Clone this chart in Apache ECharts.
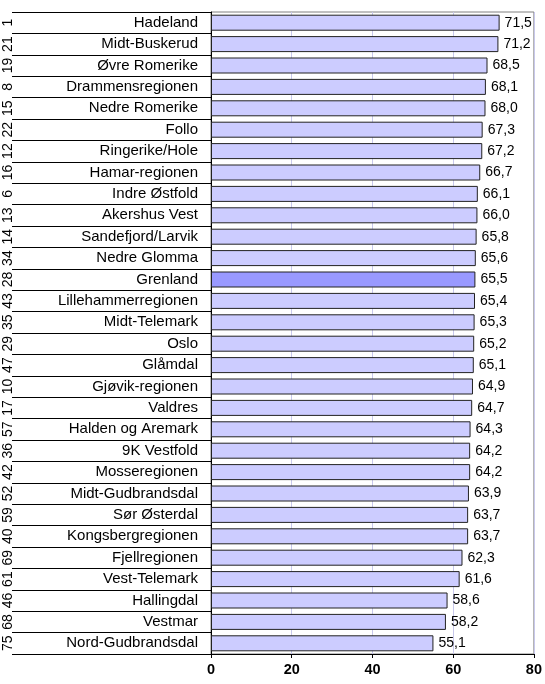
<!DOCTYPE html>
<html>
<head>
<meta charset="utf-8">
<script src="https://cdn.jsdelivr.net/npm/echarts@6/dist/echarts.min.js"></script>
<style>
html,body{margin:0;padding:0;background:#fff;}
#chart{width:545px;height:684px;}
</style>
</head>
<body>
<div id="chart"></div>
<script>
const categories = ["Hadeland","Midt-Buskerud","Øvre Romerike","Drammensregionen","Nedre Romerike","Follo","Ringerike/Hole","Hamar-regionen","Indre Østfold","Akershus Vest","Sandefjord/Larvik","Nedre Glomma","Grenland","Lillehammerregionen","Midt-Telemark","Oslo","Glåmdal","Gjøvik-regionen","Valdres","Halden og Aremark","9K Vestfold","Mosseregionen","Midt-Gudbrandsdal","Sør Østerdal","Kongsbergregionen","Fjellregionen","Vest-Telemark","Hallingdal","Vestmar","Nord-Gudbrandsdal"];
const ranks = ["1","21","19","8","15","22","12","16","6","13","14","34","28","43","35","29","47","10","17","57","36","42","52","59","40","69","61","46","68","75"];
const values = [71.5,71.2,68.5,68.1,68.0,67.3,67.2,66.7,66.1,66.0,65.8,65.6,65.5,65.4,65.3,65.2,65.1,64.9,64.7,64.3,64.2,64.2,63.9,63.7,63.7,62.3,61.6,58.6,58.2,55.1];
const highlight = "Grenland";
const xTicks = [0,20,40,60,80];

const font = "'Liberation Sans', Arial, sans-serif";
const chart = echarts.init(document.getElementById('chart'), null, {renderer:'canvas'});
chart.setOption({
  animation:false,
  backgroundColor:'#fff',
  grid:{left:211,right:10,top:12,bottom:30,show:true,borderColor:'#808080',borderWidth:1,backgroundColor:'transparent'},
  xAxis:{
    type:'value',min:xTicks[0],max:xTicks[xTicks.length-1],interval:20,
    axisLine:{show:true,lineStyle:{color:'#000',width:1}},
    axisTick:{show:true,length:4,lineStyle:{color:'#000'}},
    axisLabel:{fontFamily:font,fontSize:14.5,fontWeight:'bold',color:'#000',margin:8},
    splitLine:{show:true,lineStyle:{color:'#C8C8EC',width:1}}
  },
  yAxis:[{
    type:'category',data:categories,inverse:true,position:'left',
    axisLine:{show:true,lineStyle:{color:'#000',width:1}},
    axisTick:{show:true,length:199,lineStyle:{color:'#000',width:1}},
    axisLabel:{fontFamily:font,fontSize:15,color:'#000',margin:13},
    splitLine:{show:false}
  },{
    type:'category',data:ranks,inverse:true,position:'left',offset:203,
    axisLine:{show:false},axisTick:{show:false},
    axisLabel:{fontFamily:font,fontSize:14,color:'#000',margin:0,rotate:90,align:'center',verticalAlign:'middle'}
  }],
  series:[{
    type:'bar',yAxisIndex:0,barWidth:16,
    data:values.map((v,i)=>({value:v,itemStyle:{color:categories[i]===highlight?'#9999FF':'#CCCCFF'}})),
    itemStyle:{borderColor:'#222',borderWidth:1},
    label:{show:true,position:'right',distance:5,fontFamily:font,fontSize:14,color:'#000',
      formatter:p=>p.value.toFixed(1).replace('.',',')}
  }]
});
</script>
</body>
</html>
